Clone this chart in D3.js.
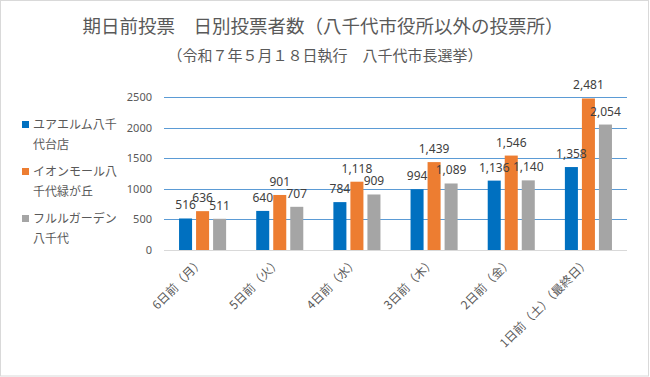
<!DOCTYPE html>
<html>
<head>
<meta charset="utf-8">
<script src="https://cdn.jsdelivr.net/npm/d3@7"></script>
<style>
    body { margin: 0; background: #fff; }
    text { font-family: "Noto Sans CJK JP", "Noto Sans", sans-serif; }
</style>
</head>
<body>
<script>
// data
var days = ["6日前（月）", "5日前（火）", "4日前（水）", "3日前（木）",
    "2日前（金）", "1日前（土）（最終日）"];
var seriesNames = ["ユアエルム八千代台店", "イオンモール八千代緑が丘",
    "フルルガーデン八千代"];
// legend lines as wrapped in the reference
var legendLines = [["ユアエルム八千", "代台店"], ["イオンモール八", "千代緑が丘"],
    ["フルルガーデン", "八千代"]];
var yuaerumu = [516, 640, 784, 994, 1136, 1358];
var aeonMall = [636, 901, 1118, 1439, 1546, 2481];
var fururu = [511, 707, 909, 1089, 1140, 2054];
var yTicks = [0, 500, 1000, 1500, 2000, 2500];
var colors = ["#0070C0", "#ED7D31", "#A5A5A5"];

var title = "期日前投票　日別投票者数（八千代市役所以外の投票所）";
var subtitle = "（令和７年５月１８日執行　八千代市長選挙）";

var width = 650,
    height = 377;

var svg = d3.select("body").append("svg")
    .attr("width", width)
    .attr("height", height);

// chart border
svg.append("rect")
    .attr("x", 0.5)
    .attr("y", 0.5)
    .attr("width", width - 2)
    .attr("height", height - 1.5)
    .attr("fill", "#fff")
    .attr("stroke", "#d9d9d9");

svg.append("text")
    .attr("x", 323)
    .attr("y", 33)
    .attr("text-anchor", "middle")
    .attr("font-size", "18.5px")
    .attr("fill", "#595959")
    .text(title);

svg.append("text")
    .attr("x", 325)
    .attr("y", 61)
    .attr("text-anchor", "middle")
    .attr("font-size", "15px")
    .attr("fill", "#595959")
    .text(subtitle);

var y = d3.scaleLinear()
    .domain([0, 2500])
    .range([250, 97.3]);

var x0 = d3.scaleBand()
    .domain(days)
    .range([164, 627])
    .paddingInner(0.39)
    .paddingOuter(0.195);

var x1 = d3.scaleBand()
    .domain([0, 1, 2])
    .range([0, x0.bandwidth()])
    .paddingInner(0.235)
    .paddingOuter(0);

// gridlines
svg.append("g")
    .selectAll("line")
    .data(yTicks)
    .enter().append("line")
    .attr("x1", 164)
    .attr("x2", 627)
    .attr("y1", function(d) { return Math.round(y(d)) + 0.5; })
    .attr("y2", function(d) { return Math.round(y(d)) + 0.5; })
    .attr("stroke", function(d) { return d === 0 ? "#d9d9d9" : "#5B9BD5"; })
    .attr("stroke-width", 1);

// y axis labels (no axis line)
var yAxis = svg.append("g")
    .attr("transform", "translate(152,0)")
    .call(d3.axisLeft(y).tickValues(yTicks).tickSize(0).tickPadding(0)
        .tickFormat(d3.format("d")));
yAxis.select(".domain").remove();
yAxis.selectAll("text")
    .attr("font-size", "11px")
    .attr("fill", "#595959")
    .style("font-family", "'Noto Sans', sans-serif");

var table = days.map(function(d, i) {
    return { day: d, values: [yuaerumu[i], aeonMall[i], fururu[i]] };
});

var groups = svg.append("g")
    .selectAll("g")
    .data(table)
    .enter().append("g")
    .attr("transform", function(d) { return "translate(" + x0(d.day) + ",0)"; });

groups.selectAll("rect")
    .data(function(d) { return d.values; })
    .enter().append("rect")
    .attr("x", function(d, i) { return x1(i); })
    .attr("y", function(d) { return y(d); })
    .attr("width", x1.bandwidth())
    .attr("height", function(d) { return y(0) - y(d); })
    .attr("fill", function(d, i) { return colors[i]; });

groups.selectAll("text")
    .data(function(d) { return d.values; })
    .enter().append("text")
    .attr("x", function(d, i) { return x1(i) + x1.bandwidth() / 2; })
    .attr("y", function(d) { return y(d) - 9; })
    .attr("text-anchor", "middle")
    .attr("font-size", "12px")
    .attr("fill", "#404040")
    .style("font-family", "'Noto Sans', sans-serif")
    .text(function(d) { return d3.format(",")(d); });

// x axis labels rotated
svg.append("g")
    .selectAll("text")
    .data(days)
    .enter().append("text")
    .attr("transform", function(d) {
        return "translate(" + (x0(d) + x0.bandwidth() / 2 + 2) + ",263) rotate(-45)";
    })
    .attr("text-anchor", "end")
    .attr("font-size", "12px")
    .attr("fill", "#595959")
    .text(function(d) { return d; });

// legend
var legend = svg.append("g")
    .selectAll("g")
    .data(legendLines)
    .enter().append("g")
    .attr("transform", function(d, i) { return "translate(22," + (121 + i * 47) + ")"; });

legend.append("rect")
    .attr("width", 7)
    .attr("height", 7)
    .attr("fill", function(d, i) { return colors[i]; });

legend.selectAll("text")
    .data(function(d) { return d; })
    .enter().append("text")
    .attr("x", 11)
    .attr("y", function(d, j) { return 8 + j * 20; })
    .attr("font-size", "12px")
    .attr("fill", "#595959")
    .text(function(d) { return d; });
</script>
</body>
</html>
